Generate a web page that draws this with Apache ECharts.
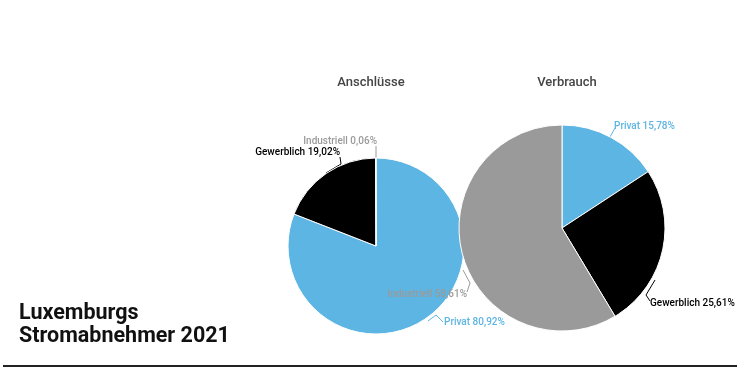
<!DOCTYPE html>
<html>
<head>
<meta charset="utf-8">
<script src="https://cdn.jsdelivr.net/npm/echarts@6/dist/echarts.min.js"></script>
<style>
  html, body { margin: 0; padding: 0; background: #fff; }
  #chart { width: 740px; height: 378px; }
</style>
</head>
<body>
<div id="chart"></div>
<script>
var categories = ['Privat', 'Gewerblich', 'Industriell'];
var anschluesse = [80.92, 19.02, 0.06];
var verbrauch = [15.78, 25.61, 58.61];
var colors = ['#5db5e3', '#000000', '#9a9a9a'];

// hand placed label anchors + leader lines (per series, per category)
var labelSpots = [
    [
        { x: 444, y: 322, align: 'left', line: [[428, 321], [436, 315], [443, 322]] },
        { x: 340, y: 152, align: 'right', line: [[326, 173], [341, 164], [340, 157]] },
        { x: 377, y: 141, align: 'right', line: [[376, 158], [376, 146]] }
    ],
    [
        { x: 614, y: 126, align: 'left', line: [[610, 137], [615, 128]] },
        { x: 650, y: 303, align: 'left', line: [[655, 280], [646, 295], [650, 301]] },
        { x: 467, y: 294, align: 'right', line: [[463, 270], [470, 283], [467, 292]] }
    ]
];

function makeData(values) {
    var out = [];
    for (var i = 0; i < categories.length; i++) {
        out.push({
            name: categories[i],
            value: values[i],
            itemStyle: { color: colors[i] },
            label: { color: colors[i] },
            labelLine: { lineStyle: { color: colors[i], width: 1 } }
        });
    }
    return out;
}

function fmt(p) {
    return p.name + ' ' + p.value.toFixed(2).replace('.', ',') + '%';
}

function placeLabel(params) {
    var s = labelSpots[params.seriesIndex][params.dataIndex];
    return {
        x: s.x,
        y: s.y,
        align: s.align,
        verticalAlign: 'middle',
        labelLinePoints: s.line
    };
}

var chartDom = document.getElementById('chart');
var myChart = echarts.init(chartDom);
var option;

var pieLabel = {
    formatter: fmt,
    fontFamily: 'Roboto',
    fontSize: 10,
    fontWeight: 500,
    overflow: 'none',
    width: 200
};

option = {
    backgroundColor: '#fff',
    animation: false,
    textStyle: { fontFamily: 'Roboto' },
    title: [{
        text: 'Luxemburgs\nStromabnehmer 2021',
        left: 19,
        top: 302,
        padding: 0,
        textStyle: { fontFamily: 'Roboto', fontSize: 21.5, fontWeight: 'bold', color: '#111', lineHeight: 23 }
    }, {
        text: 'Anschlüsse',
        left: 366,
        top: 71,
        textAlign: 'center',
        textStyle: { fontFamily: 'Roboto', fontSize: 13, fontWeight: 500, color: '#444' }
    }, {
        text: 'Verbrauch',
        left: 562,
        top: 71,
        textAlign: 'center',
        textStyle: { fontFamily: 'Roboto', fontSize: 13, fontWeight: 500, color: '#444' }
    }],
    series: [{
        type: 'pie',
        center: [376, 246],
        radius: 88,
        startAngle: 90,
        clockwise: true,
        data: makeData(anschluesse),
        itemStyle: { borderColor: '#fff', borderWidth: 1 },
        label: pieLabel,
        labelLine: { show: true },
        labelLayout: placeLabel
    }, {
        type: 'pie',
        center: [562, 228],
        radius: 103,
        startAngle: 90,
        clockwise: true,
        data: makeData(verbrauch),
        itemStyle: { borderColor: '#fff', borderWidth: 1 },
        label: pieLabel,
        labelLine: { show: true },
        labelLayout: placeLabel
    }],
    graphic: [{
        type: 'line',
        shape: { x1: 3, y1: 366, x2: 737, y2: 366 },
        style: { stroke: '#222', lineWidth: 2 }
    }]
};

myChart.setOption(option);
</script>
</body>
</html>
